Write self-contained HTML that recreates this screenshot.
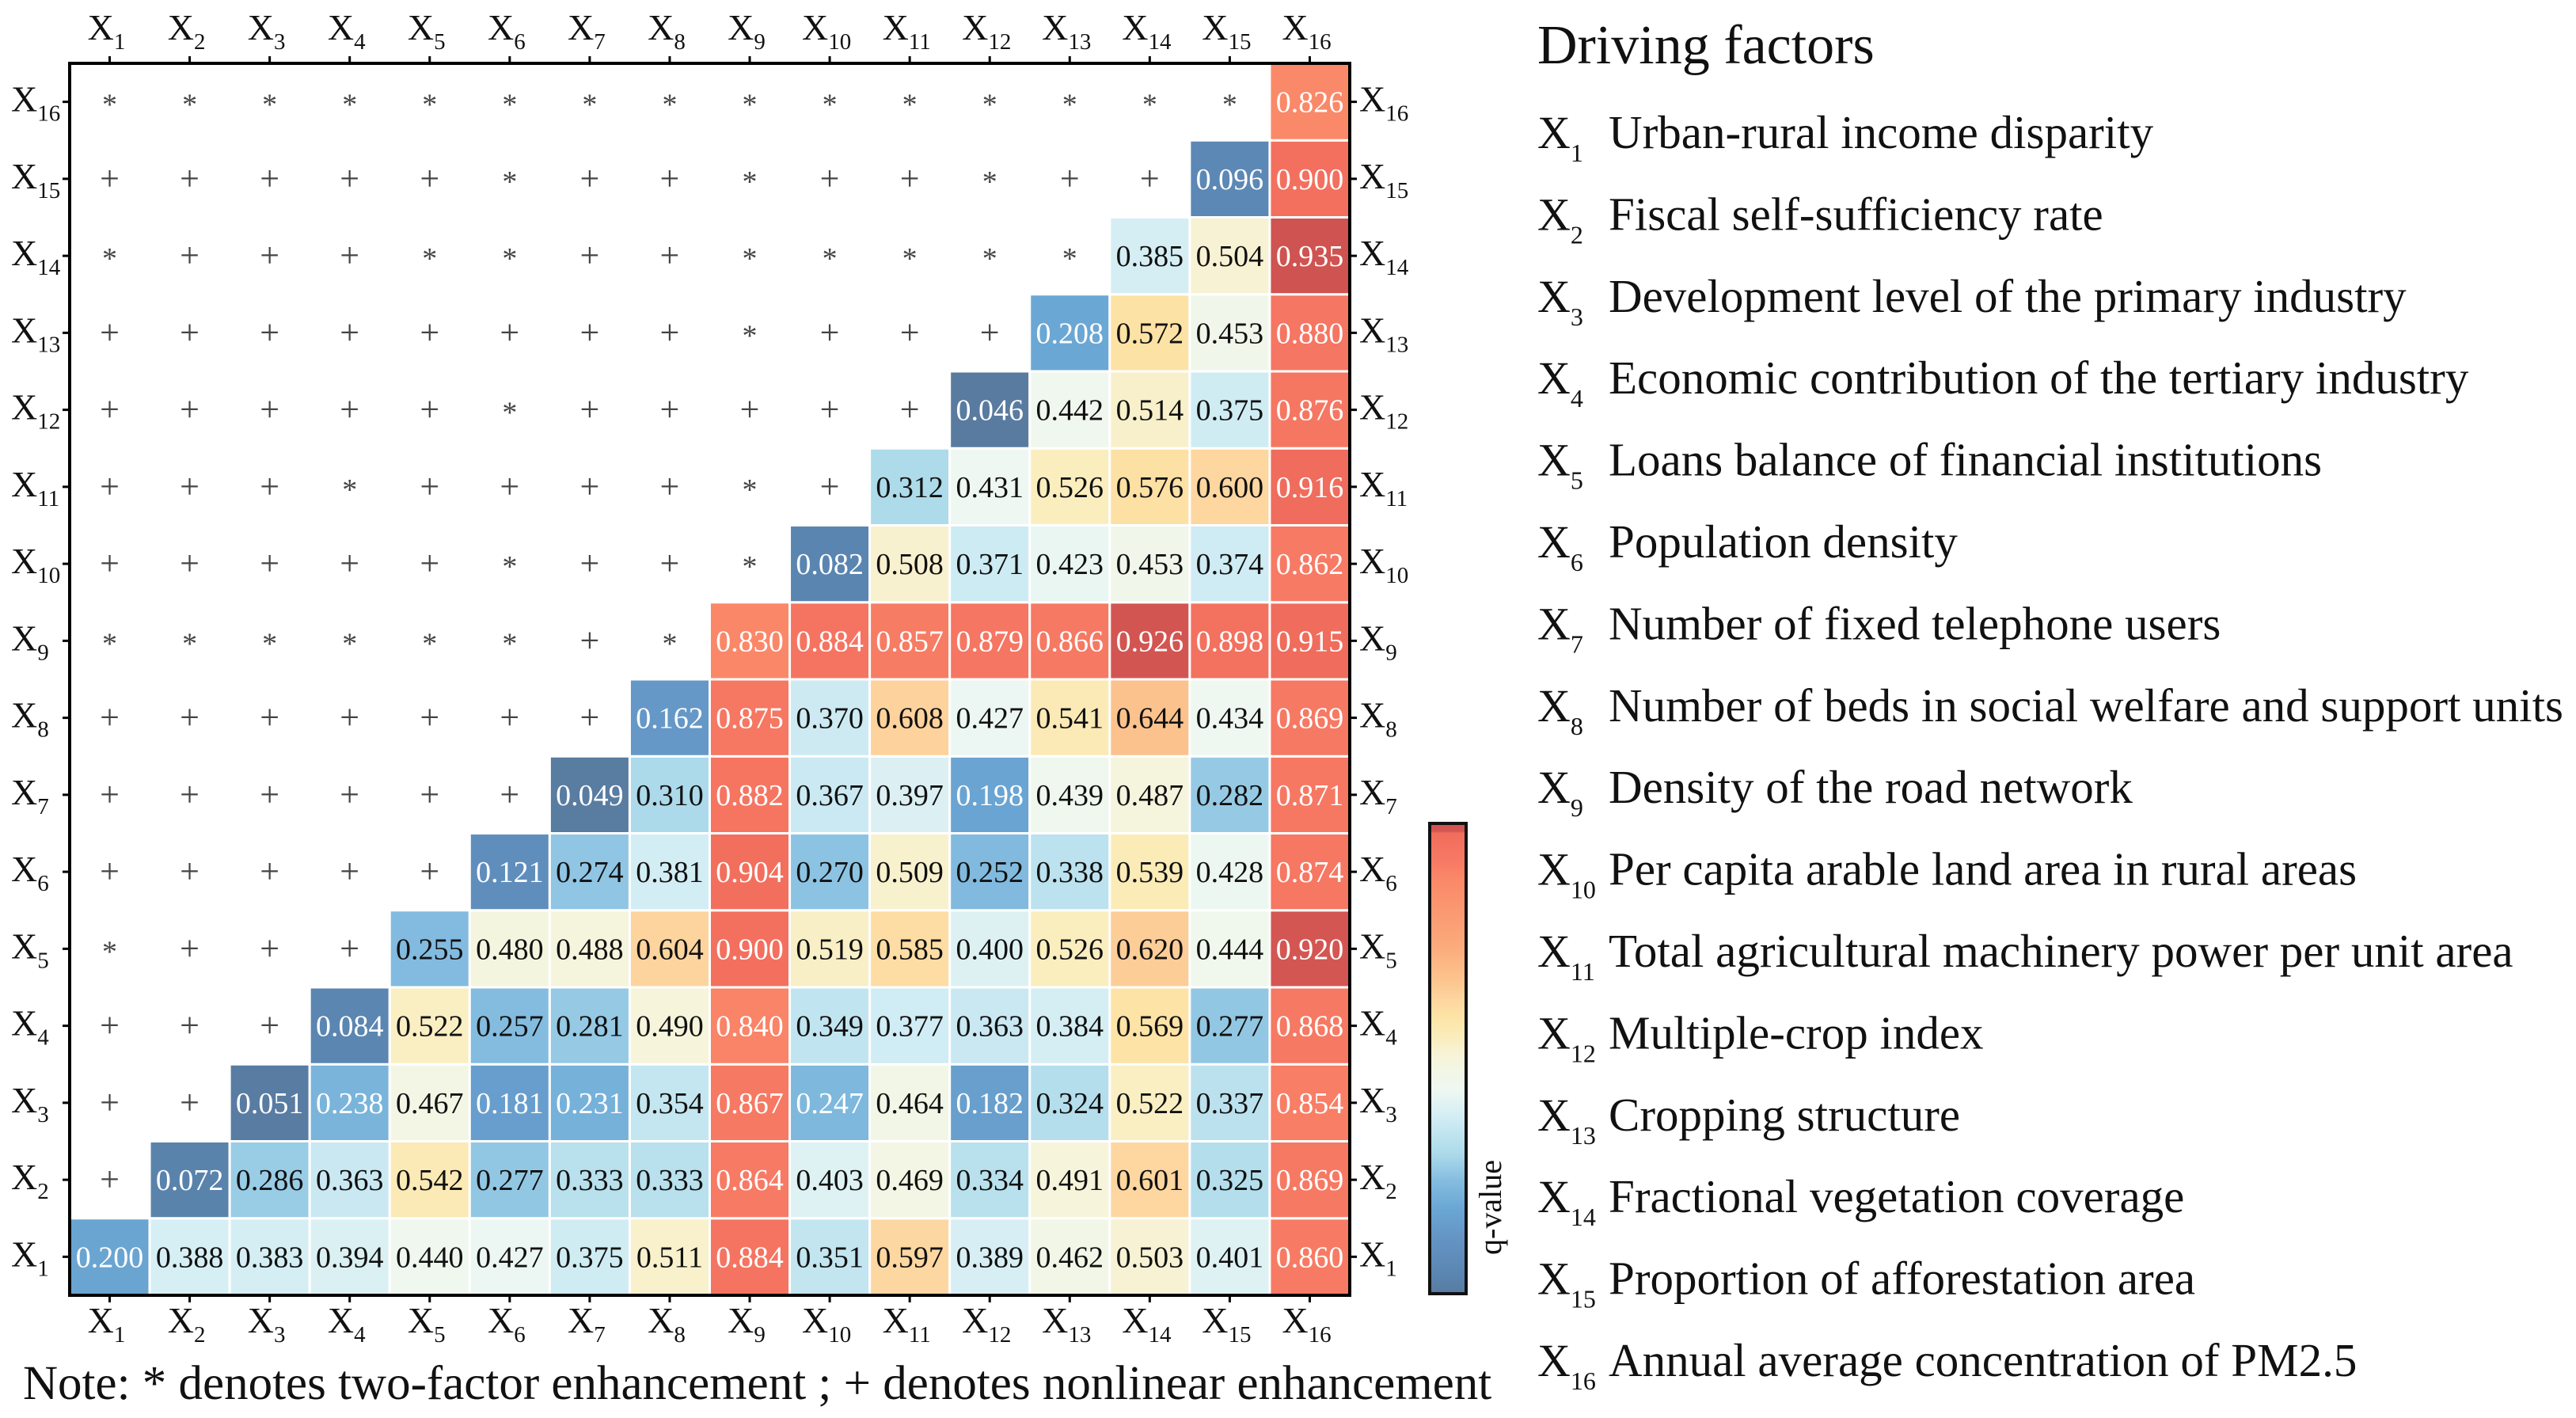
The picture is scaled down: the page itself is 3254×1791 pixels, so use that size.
<!DOCTYPE html>
<html><head><meta charset="utf-8">
<style>
html,body{margin:0;padding:0;background:#fff;}
svg{display:block;font-family:"Liberation Serif",serif;}
</style></head>
<body>
<svg id="chart" width="3254" height="1791" viewBox="0 0 3254 1791" xmlns="http://www.w3.org/2000/svg">
<defs>
<linearGradient id="cbgrad" x1="0" y1="1" x2="0" y2="0"></linearGradient>
</defs>
<g id="plot"></g>
<g id="cbar"></g>
<g id="legend"></g>
<text x="29" y="1767" font-size="61" fill="#111">Note: * denotes two-factor enhancement ; + denotes nonlinear enhancement</text>
</svg>
<script>
// ---- data ----
const factors = ["X1","X2","X3","X4","X5","X6","X7","X8","X9","X10","X11","X12","X13","X14","X15","X16"];
const factorNames = ["Urban-rural income disparity","Fiscal self-sufficiency rate","Development level of the primary industry","Economic contribution of the tertiary industry","Loans balance of financial institutions","Population density","Number of fixed telephone users","Number of beds in social welfare and support units","Density of the road network","Per capita arable land area in rural areas","Total agricultural machinery power per unit area","Multiple-crop index","Cropping structure","Fractional vegetation coverage","Proportion of afforestation area","Annual average concentration of PM2.5"];
// q-values: row Xi, values for columns Xi..X16
const qRow1  = [0.200,0.388,0.383,0.394,0.440,0.427,0.375,0.511,0.884,0.351,0.597,0.389,0.462,0.503,0.401,0.860];
const qRow2  = [0.072,0.286,0.363,0.542,0.277,0.333,0.333,0.864,0.403,0.469,0.334,0.491,0.601,0.325,0.869];
const qRow3  = [0.051,0.238,0.467,0.181,0.231,0.354,0.867,0.247,0.464,0.182,0.324,0.522,0.337,0.854];
const qRow4  = [0.084,0.522,0.257,0.281,0.490,0.840,0.349,0.377,0.363,0.384,0.569,0.277,0.868];
const qRow5  = [0.255,0.480,0.488,0.604,0.900,0.519,0.585,0.400,0.526,0.620,0.444,0.920];
const qRow6  = [0.121,0.274,0.381,0.904,0.270,0.509,0.252,0.338,0.539,0.428,0.874];
const qRow7  = [0.049,0.310,0.882,0.367,0.397,0.198,0.439,0.487,0.282,0.871];
const qRow8  = [0.162,0.875,0.370,0.608,0.427,0.541,0.644,0.434,0.869];
const qRow9  = [0.830,0.884,0.857,0.879,0.866,0.926,0.898,0.915];
const qRow10 = [0.082,0.508,0.371,0.423,0.453,0.374,0.862];
const qRow11 = [0.312,0.431,0.526,0.576,0.600,0.916];
const qRow12 = [0.046,0.442,0.514,0.375,0.876];
const qRow13 = [0.208,0.572,0.453,0.880];
const qRow14 = [0.385,0.504,0.935];
const qRow15 = [0.096,0.900];
const qRow16 = [0.826];
// interaction type symbols: row Xi, columns X1..X(i-1)
const symRow2  = "+";
const symRow3  = "++";
const symRow4  = "+++";
const symRow5  = "*+++";
const symRow6  = "+++++";
const symRow7  = "++++++";
const symRow8  = "+++++++";
const symRow9  = "******+*";
const symRow10 = "+++++*++*";
const symRow11 = "+++*++++*+";
const symRow12 = "+++++*+++++";
const symRow13 = "++++++++*+++";
const symRow14 = "*+++**++*****";
const symRow15 = "+++++*++*++*++";
const symRow16 = "***************";

const qRows = [qRow1,qRow2,qRow3,qRow4,qRow5,qRow6,qRow7,qRow8,qRow9,qRow10,qRow11,qRow12,qRow13,qRow14,qRow15,qRow16];
const symRows = ["",symRow2,symRow3,symRow4,symRow5,symRow6,symRow7,symRow8,symRow9,symRow10,symRow11,symRow12,symRow13,symRow14,symRow15,symRow16];

// ---- geometry ----
const NS="http://www.w3.org/2000/svg";
const L=88, R=1705, T=80, B=1636;
const n=factors.length;
const cw=(R-L)/n, ch=(B-T)/n;
const xPos=j=>L+j*cw;
const yPos=i=>B-(i+1)*ch;

const stops=[[0.046,"#597ba0"],[0.08,"#5a85b0"],[0.15,"#6494c4"],[0.21,"#6ba8d5"],[0.26,"#85bde0"],[0.31,"#acdaea"],[0.38,"#d2edf4"],[0.43,"#eef7f2"],[0.47,"#f3f6e4"],[0.50,"#f7f3d6"],[0.53,"#faedbc"],[0.57,"#fde3a5"],[0.60,"#fdd6a0"],[0.64,"#fcc48e"],[0.70,"#fbab7c"],[0.83,"#fa8868"],[0.86,"#f77b64"],[0.90,"#f3705f"],[0.917,"#f06c5c"],[0.92,"#d45652"],[0.935,"#cf5350"]];
function hex(h){return [1,3,5].map(k=>parseInt(h.substr(k,2),16));}
function color(v){
  if(v<=stops[0][0])return stops[0][1];
  for(let k=1;k<stops.length;k++){
    if(v<=stops[k][0]){
      const a=stops[k-1],b=stops[k],t=(v-a[0])/(b[0]-a[0]);
      const c1=hex(a[1]),c2=hex(b[1]);
      return "rgb("+c1.map((c,z)=>Math.round(c+(c2[z]-c)*t)).join(",")+")";
    }
  }
  return stops[stops.length-1][1];
}
function el(tag,attrs,parent){const e=document.createElementNS(NS,tag);for(const k in attrs)e.setAttribute(k,attrs[k]);parent.appendChild(e);return e;}
function subLabel(parent,x,y,idx,size,anchor,ratio,drop){
  const t=el("text",{x:x,y:y,"font-size":size,"text-anchor":anchor,fill:"#111"},parent);
  t.appendChild(document.createTextNode("X"));
  const s=el("tspan",{"font-size":Math.round(size*ratio),dy:Math.round(size*drop)},t);
  s.textContent=String(idx+1);
  return t;
}

const plot=document.getElementById("plot");
for(let i=0;i<n;i++){
  const vals=qRows[i];
  for(let k=0;k<vals.length;k++){
    const j=i+k, v=vals[k];
    const r=el("rect",{x:xPos(j),y:yPos(i),width:cw,height:ch,fill:color(v),stroke:"#fff","stroke-width":3},plot);
    
    
    const t=el("text",{x:xPos(j)+cw/2,y:yPos(i)+ch/2+13,"font-size":38,"text-anchor":"middle",fill:(v<0.25||v>0.8)?"#fff":"#111"},plot);
    t.textContent=v.toFixed(3);
    
    
  }
  const syms=symRows[i];
  for(let j=0;j<syms.length;j++){
    const s=syms[j];
    const t=el("text",{x:xPos(j)+cw/2,y:yPos(i)+ch/2+(s==="*"?16:14),"font-size":s==="*"?38:44,"text-anchor":"middle",fill:"#444"},plot);
    t.textContent=s;
    
    
  }
}
const fr=el("rect",{x:L,y:T,width:R-L,height:B-T,fill:"none",stroke:"#000","stroke-width":4},plot);


for(let k=0;k<n;k++){
  const cx=xPos(k)+cw/2, cy=yPos(k)+ch/2;
  el("line",{x1:cx,y1:T,x2:cx,y2:T-9,stroke:"#000","stroke-width":3},plot);
  el("line",{x1:cx,y1:B,x2:cx,y2:B+9,stroke:"#000","stroke-width":3},plot);
  el("line",{x1:L,y1:cy,x2:L-9,y2:cy,stroke:"#000","stroke-width":3},plot);
  el("line",{x1:R,y1:cy,x2:R+9,y2:cy,stroke:"#000","stroke-width":3},plot);
  let t=subLabel(plot,cx-4,50,k,46,"middle",0.62,0.25);
  
  
  t=subLabel(plot,cx-4,1683,k,46,"middle",0.62,0.25);
  
  
  t=subLabel(plot,14,cy+12,k,46,"start",0.62,0.25);
  
  
  t=subLabel(plot,R+12,cy+12,k,46,"start",0.62,0.25);
  
  
}
const grad=document.getElementById("cbgrad");
const vmin=0.046,vmax=0.935;
stops.forEach(s=>{el("stop",{offset:((s[0]-vmin)/(vmax-vmin)),"stop-color":s[1]},grad);});
const cb=document.getElementById("cbar");
const cbr=el("rect",{x:1806,y:1040,width:46,height:594,fill:"url(#cbgrad)",stroke:"#111","stroke-width":4},cb);


const cbl=el("text",{x:0,y:0,"font-size":40,"text-anchor":"middle",fill:"#111",transform:"translate(1896,1525) rotate(-90)"},cb);
cbl.textContent="q-value";


const lg=document.getElementById("legend");
const lt=el("text",{x:1942,y:80,"font-size":70,fill:"#111"},lg);
lt.textContent="Driving factors";


for(let k=0;k<n;k++){
  const y=187+k*103.4;
  const t=subLabel(lg,1942,y,k,58,"start",0.55,0.3);
  
  
  const d=el("text",{x:2032,y:y,"font-size":59,fill:"#111"},lg);
  d.textContent=factorNames[k];
  
  
}
</script>
</body></html>
